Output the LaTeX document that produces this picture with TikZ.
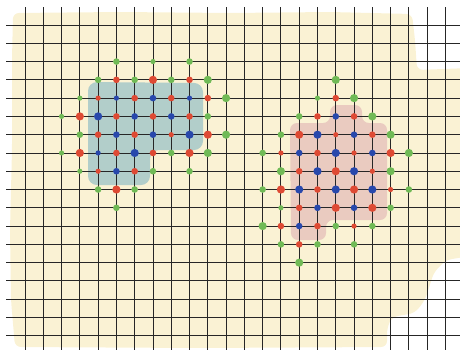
\documentclass[tikz,border=0pt]{standalone}
\begin{document}
\begin{tikzpicture}[x=1pt,y=-1pt]
\definecolor{bg}{RGB}{250,242,212}
\definecolor{tealr}{RGB}{178,206,202}
\definecolor{pinkr}{RGB}{234,203,192}
\definecolor{cR}{RGB}{222,74,52}
\definecolor{cB}{RGB}{40,72,172}
\definecolor{cG}{RGB}{112,186,86}
\tikzset{
  ds/.style={radius=2.6pt},
  dm/.style={radius=3.3pt},
  dl/.style={radius=4.1pt},
  gridline/.style={draw=black!85,line width=0.9pt}
}
\useasboundingbox (0,0) rectangle (460,349);
\clip (0,0) rectangle (460,349);
% beige background blob
\fill[bg,rounded corners=6pt] (13,13) -- (120,12) -- (230,13) -- (330,12) -- (412,14)
  -- (415,40) -- (417,70) -- (470,68) -- (470,256) -- (446,260) -- (434,272)
  -- (425,300) -- (415,313) -- (392,317) -- (387,328) -- (387,347)
  -- (200,348) -- (15,347) -- (11,300) -- (10,230) -- (12,150) -- (12,60) -- cycle;
% teal region
\fill[tealr,rounded corners=9pt] (88,82) -- (203,83) -- (203,150) -- (150,150)
  -- (150,185) -- (88,185) -- cycle;
% pink region
\fill[pinkr,rounded corners=7pt] (290,123) -- (330,123) -- (330,105) -- (362,105)
  -- (362,123) -- (387,123) -- (387,220) -- (326,220) -- (326,240) -- (291,240) -- cycle;
% grid
\foreach \k in {0,...,23}
  \draw[gridline] ({25+18.28*\k},7) -- ({25+18.28*\k},352);
\foreach \r in {0,...,17}
  \draw[gridline] (6,{25+18.28*\r}) -- (463,{25+18.28*\r});
% dots
\foreach \k/\r/\c/\s in {
5/2/G/m, 7/2/G/s, 9/2/G/m,
4/3/G/m, 5/3/R/m, 6/3/G/m, 7/3/R/l, 8/3/G/m, 9/3/R/m, 10/3/G/l,
3/4/G/s, 4/4/R/s, 5/4/B/s, 6/4/R/m, 7/4/B/m, 8/4/R/m, 9/4/B/s, 10/4/R/m, 11/4/G/l,
2/5/G/s, 3/5/R/l, 4/5/B/l, 5/5/R/m, 6/5/B/m, 7/5/R/m, 8/5/B/m, 9/5/R/m, 10/5/G/m,
3/6/G/m, 4/6/R/m, 5/6/B/m, 6/6/R/m, 7/6/B/m, 8/6/R/s, 9/6/B/l, 10/6/R/l, 11/6/G/l,
2/7/G/s, 3/7/R/l, 4/7/B/s, 5/7/R/m, 6/7/B/l, 7/7/R/m, 8/7/G/m, 9/7/R/l, 10/7/G/l,
3/8/G/s, 4/8/R/s, 5/8/B/m, 6/8/R/m, 7/8/G/m, 9/8/G/m,
4/9/G/m, 5/9/R/l, 6/9/G/m,
5/10/G/m,
17/3/G/l,
16/4/G/s, 17/4/R/m, 18/4/G/l,
15/5/G/m, 16/5/R/m, 17/5/B/m, 18/5/R/m, 19/5/G/l,
14/6/G/m, 15/6/R/l, 16/6/B/l, 17/6/R/s, 18/6/B/m, 19/6/R/m, 20/6/G/l,
13/7/G/m, 14/7/R/s, 15/7/B/m, 16/7/R/m, 17/7/B/l, 18/7/R/s, 19/7/B/m, 20/7/R/l, 21/7/G/l,
14/8/G/l, 15/8/R/m, 16/8/B/l, 17/8/R/l, 18/8/B/l, 19/8/R/s, 20/8/G/l,
13/9/G/m, 14/9/R/l, 15/9/B/l, 16/9/R/m, 17/9/B/l, 18/9/R/l, 19/9/B/l, 20/9/R/s, 21/9/G/m,
14/10/G/s, 15/10/R/m, 16/10/B/m, 17/10/R/l, 18/10/B/m, 19/10/R/l, 20/10/G/m,
13/11/G/l, 14/11/R/m, 15/11/B/m, 16/11/R/m, 17/11/G/m, 18/11/R/s, 19/11/G/m,
14/12/G/m, 15/12/R/m, 16/12/G/m, 18/12/G/m,
15/13/G/l}
  \fill[c\c,d\s] ({25+18.28*\k},{25+18.28*\r}) circle;
\end{tikzpicture}
\end{document}
